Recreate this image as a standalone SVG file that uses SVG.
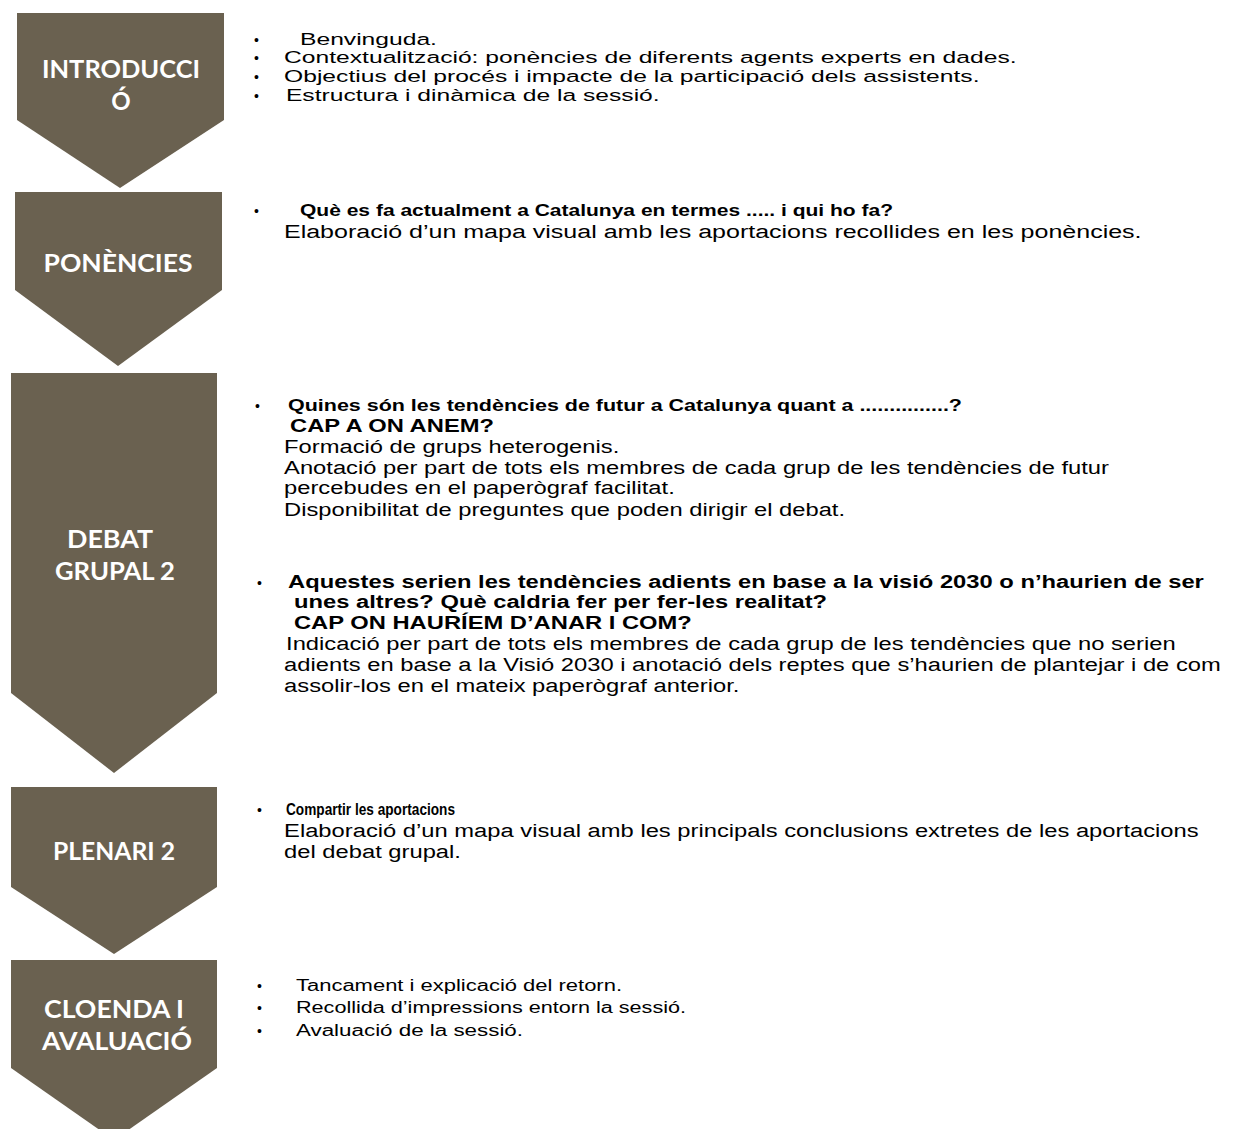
<svg xmlns="http://www.w3.org/2000/svg" width="1234" height="1129" viewBox="0 0 1234 1129">
<style>
.box{fill:#6A6150}
.lbl{font-family:Lato,"Liberation Sans",sans-serif;font-weight:700;font-size:24px;fill:#fff;text-anchor:middle}
.bul{font-family:"Liberation Sans",Arial,sans-serif;font-size:14px;fill:#000}
.ar{font-family:"Liberation Sans",Arial,sans-serif;font-size:18px;fill:#000}
.ar17{font-family:"Liberation Sans",Arial,sans-serif;font-size:17px;fill:#000}
.arb{font-family:"Liberation Sans",Arial,sans-serif;font-size:18px;font-weight:700;fill:#000}
.cb{font-family:"Liberation Sans",Arial,sans-serif;font-size:17px;font-weight:700;fill:#000}
.cr{font-family:"Liberation Sans",Arial,sans-serif;font-size:16px;fill:#000}
</style>
<rect width="1234" height="1129" fill="#fff"/>

<g id="introduccio">
<polygon class="box" points="17,13 224,13 224,120 120,188 17,120"/>
<text class="lbl" x="121" y="78" textLength="158" lengthAdjust="spacingAndGlyphs">INTRODUCCI</text>
<text class="lbl" x="121" y="110">Ó</text>
<text class="bul" x="254" y="45">•</text>
<text class="bul" x="254" y="63">•</text>
<text class="bul" x="254" y="82">•</text>
<text class="bul" x="254" y="101">•</text>
<g transform="scale(1.45,1)">
<text class="ar17" x="206.9" y="45">Benvinguda.</text>
<text class="ar17" x="195.9" y="63">Contextualització: ponències de diferents agents experts en dades.</text>
<text class="ar17" x="195.9" y="82">Objectius del procés i impacte de la participació dels assistents.</text>
<text class="ar17" x="197.2" y="101">Estructura i dinàmica de la sessió.</text>
</g>
</g>

<g id="ponencies">
<polygon class="box" points="15,192 222,192 222,290 118,366 15,290"/>
<text class="lbl" x="118" y="272" textLength="149" lengthAdjust="spacingAndGlyphs">PONÈNCIES</text>
<text class="bul" x="254" y="216">•</text>
<text class="cb" x="300" y="216" textLength="593" lengthAdjust="spacingAndGlyphs">Què es fa actualment a Catalunya en termes .....  i qui ho fa?</text>
<g transform="scale(1.39,1)">
<text class="ar" x="204.3" y="238">Elaboració d’un mapa visual amb les aportacions recollides en les ponències.</text>
</g>
</g>

<g id="debat-grupal-2">
<polygon class="box" points="11,373 217,373 217,693 114,773 11,693"/>
<text class="lbl" x="110" y="548" textLength="86" lengthAdjust="spacingAndGlyphs">DEBAT</text>
<text class="lbl" x="115" y="580" textLength="120" lengthAdjust="spacingAndGlyphs">GRUPAL 2</text>
<text class="bul" x="255" y="411">•</text>
<text class="cb" x="288" y="411" textLength="674" lengthAdjust="spacingAndGlyphs">Quines són les tendències de futur a Catalunya quant a ...............?</text>
<text class="bul" x="257" y="588">•</text>
<g transform="scale(1.32,1)">
<text class="arb" x="219.7" y="432">CAP A ON ANEM?</text>
<text class="ar" x="215.2" y="453">Formació de grups heterogenis.</text>
<text class="ar" x="215.2" y="474">Anotació per part de tots els membres de cada grup de les tendències de futur</text>
<text class="ar" x="215.2" y="494">percebudes en el paperògraf facilitat.</text>
<text class="ar" x="215.2" y="516">Disponibilitat de preguntes que poden dirigir el debat.</text>
<text class="arb" x="218.2" y="588">Aquestes serien les tendències adients en base a la visió 2030 o n’haurien de ser</text>
<text class="arb" x="222.7" y="608">unes altres? Què caldria fer per fer-les realitat?</text>
<text class="arb" x="222.7" y="629">CAP ON HAURÍEM D’ANAR I COM?</text>
<text class="ar" x="216.7" y="650">Indicació per part de tots els membres de cada grup de les tendències que no serien</text>
<text class="ar" x="215.2" y="671">adients en base a la Visió 2030 i anotació dels reptes que s’haurien de plantejar i de com</text>
<text class="ar" x="215.2" y="692">assolir-los en el mateix paperògraf anterior.</text>
</g>
</g>

<g id="plenari-2">
<polygon class="box" points="11,787 217,787 217,887 114,954 11,887"/>
<text class="lbl" x="114" y="860" textLength="122" lengthAdjust="spacingAndGlyphs">PLENARI 2</text>
<text class="bul" x="257" y="815">•</text>
<text class="cb" x="286" y="815" textLength="169" lengthAdjust="spacingAndGlyphs">Compartir les aportacions</text>
<g transform="scale(1.32,1)">
<text class="ar" x="215.2" y="837">Elaboració d’un mapa visual amb les principals conclusions extretes de les aportacions</text>
<text class="ar" x="215.2" y="858">del debat grupal.</text>
</g>
</g>

<g id="cloenda-i-avaluacio">
<polygon class="box" points="11,960 217,960 217,1068 114,1140 11,1068"/>
<text class="lbl" x="114" y="1018" textLength="140" lengthAdjust="spacingAndGlyphs">CLOENDA I</text>
<text class="lbl" x="117" y="1050" textLength="150" lengthAdjust="spacingAndGlyphs">AVALUACIÓ</text>
<text class="bul" x="257" y="991">•</text>
<text class="bul" x="257" y="1013">•</text>
<text class="bul" x="257" y="1036">•</text>
<text class="cr" x="296" y="991" textLength="326" lengthAdjust="spacingAndGlyphs">Tancament i explicació del retorn.</text>
<text class="cr" x="296" y="1013" textLength="390" lengthAdjust="spacingAndGlyphs">Recollida d’impressions entorn la sessió.</text>
<text class="cr" x="296" y="1036" textLength="227" lengthAdjust="spacingAndGlyphs">Avaluació de la sessió.</text>
</g>
</svg>
